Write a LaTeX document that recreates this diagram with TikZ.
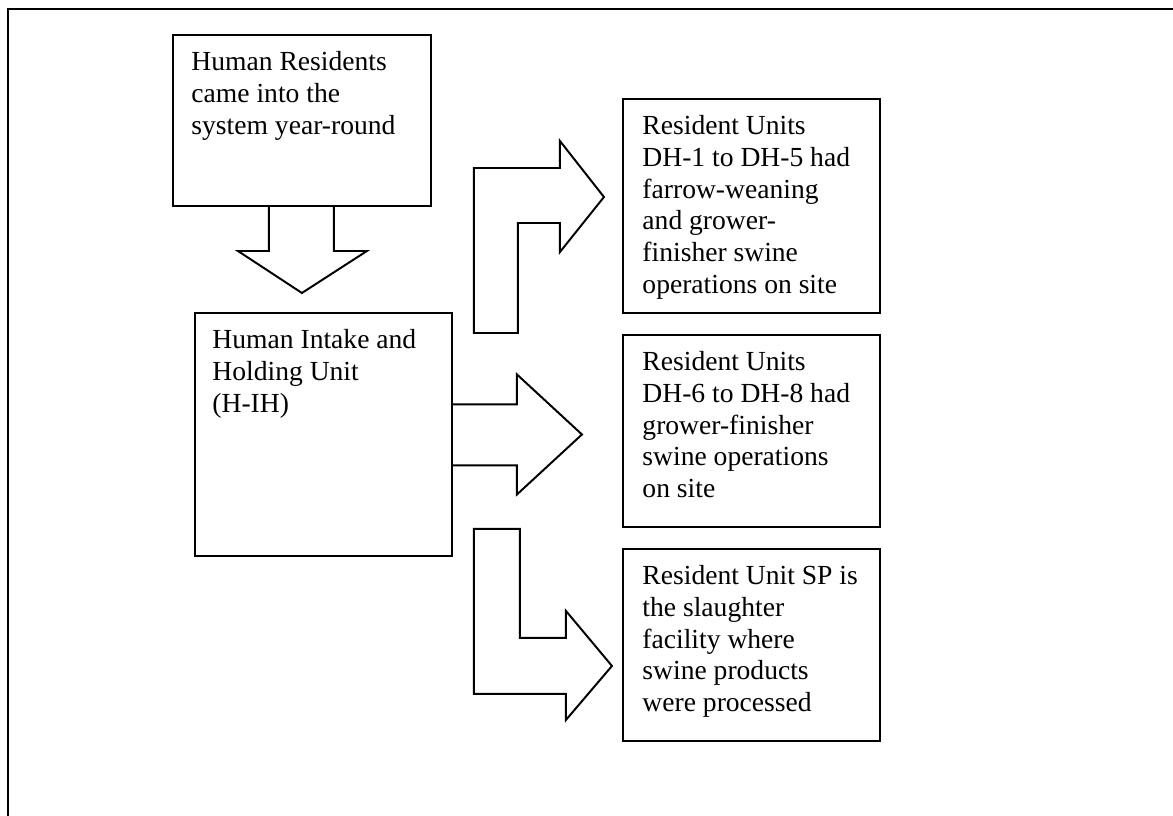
\documentclass[tikz,border=0pt]{standalone}
\usepackage{fontspec}
\setmainfont{Liberation Serif}

\begin{document}
\begin{tikzpicture}[x=0.435pt, y={(0pt,-0.435pt)},
    unitbox/.style={draw, line width=0.85pt, anchor=north west, inner sep=0pt, minimum width=111.8pt},
    unittext/.style={anchor=north west, align=left, inner sep=0pt, font=\fontsize{12}{13.8}\selectfont},
    blockarrow/.style={draw, line width=0.85pt, line join=miter}]
    % page size
    \useasboundingbox (0,0) rectangle (1173,816);

    % frame
    \draw[line width=1.3pt] (8,816) -- (8,9) -- (1173,9);

    % draw boxes
    \node[unitbox, minimum width=112.2pt, minimum height=74.4pt] (res) at (172,34) {};
    \node[unitbox, minimum height=105.7pt] (hih) at (194,312) {};
    \node[unitbox, minimum height=93.1pt] (dha) at (622,98) {};
    \node[unitbox, minimum height=83.5pt] (dhb) at (622,334) {};
    \node[unitbox, minimum height=83.5pt] (sp) at (622,548) {};

    % add labels
    \node[unittext] (res-txt) at ([shift={(19,17)}]res.north west) {Human Residents\\came into the\\system year-round};
    \node[unittext] (hih-txt) at ([shift={(18,17)}]hih.north west) {Human Intake and\\Holding Unit\\(H-IH)};
    \node[unittext] (dha-txt) at ([shift={(20,17)}]dha.north west) {Resident Units\\DH-1 to DH-5 had\\farrow-weaning\\and grower-\\finisher swine\\operations on site};
    \node[unittext] (dhb-txt) at ([shift={(20,17)}]dhb.north west) {Resident Units\\DH-6 to DH-8 had\\grower-finisher\\swine operations\\on site};
    \node[unittext] (sp-txt) at ([shift={(20,17)}]sp.north west) {Resident Unit SP is\\the slaughter\\facility where\\swine products\\were processed};

    % draw arrows
    \draw[blockarrow] (res.south) ++(-33,0) -- ++(0,44) -- ++(-31,0) -- ++(64,42) -- ++(65,-42) -- ++(-33,0) -- ++(0,-44);
    \draw[blockarrow] (hih.east) ++(0,-30) -- ++(64,0) -- ++(0,-30) -- ++(65,60) -- ++(-65,60) -- ++(0,-29) -- ++(-64,0);
    \draw[blockarrow] (hih.north east) ++(21,21) -- ++(0,-165) -- ++(86,0) -- ++(0,-27) -- ++(44,56) -- ++(-44,55) -- ++(0,-29) -- ++(-42,0) -- ++(0,110) -- cycle;
    \draw[blockarrow] (hih.south east) ++(21,-28) -- ++(46,0) -- ++(0,109) -- ++(46,0) -- ++(0,-27) -- ++(46,55) -- ++(-46,54) -- ++(0,-26) -- ++(-92,0) -- cycle;

\end{tikzpicture}
\end{document}
